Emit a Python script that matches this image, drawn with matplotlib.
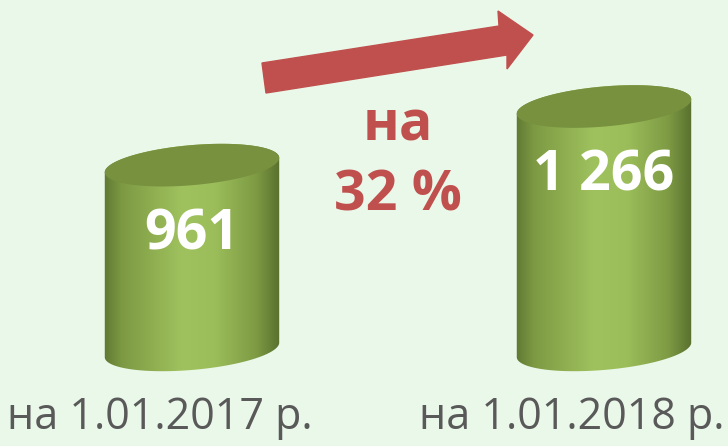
import numpy as np
import matplotlib.pyplot as plt
from matplotlib.patches import Polygon
from matplotlib.colors import LinearSegmentedColormap

# Дані
categories = ['на 1.01.2017 р.', 'на 1.01.2018 р.']
values = [961, 1266]
value_labels = ['961', '1 266']
growth_words = ['на', '32 %']

plt.rcParams['font.family'] = ['Open Sans', 'DejaVu Sans']

W, H = 728, 446
fig = plt.figure(figsize=(W / 100, H / 100), dpi=100)
fig.patch.set_facecolor('#EAF8EA')
ax = fig.add_axes([0, 0, 1, 1])
ax.set_facecolor('#EAF8EA')
ax.axis('off')

xlim = (-0.466, 1.301)
ylim = (-500, 1820)
sx = W / (xlim[1] - xlim[0])   # пікселів на одиницю x
sy = H / (ylim[1] - ylim[0])   # пікселів на одиницю y

bar_w = 0.425
B = 20          # мала піввісь еліпса, px
theta = np.radians(5)

cmap = LinearSegmentedColormap.from_list('cyl', [
    (0.0, '#5A7230'), (0.12, '#7D9A43'), (0.45, '#A0C25E'),
    (0.62, '#9CBE5A'), (0.85, '#7E9B44'), (1.0, '#52692A')])


def ellipse(cx, cy, t):
    A = bar_w / 2 * sx
    px = A * np.cos(t) * np.cos(theta) - B * np.sin(t) * np.sin(theta)
    py = A * np.cos(t) * np.sin(theta) + B * np.sin(t) * np.cos(theta)
    return cx + px / sx, cy + py / sy


def cylinder(x, h):
    t1 = np.linspace(0, np.pi, 100)
    t2 = np.linspace(np.pi, 2 * np.pi, 100)
    xt, yt = ellipse(x, h, t1)
    xb, yb = ellipse(x, 0, t2)
    body = Polygon(np.column_stack([np.r_[xt, xb], np.r_[yt, yb]]),
                   closed=True, facecolor='none', edgecolor='none')
    ax.add_patch(body)
    grad = np.linspace(0, 1, 256).reshape(1, -1)
    im = ax.imshow(grad, cmap=cmap, aspect='auto',
                   extent=[x - bar_w / 2 - 0.01, x + bar_w / 2 + 0.01,
                           -B * 2 / sy, h + B * 2 / sy],
                   zorder=2)
    im.set_clip_path(body)
    tt = np.linspace(0, 2 * np.pi, 200)
    xe, ye = ellipse(x, h, tt)
    ax.fill(xe, ye, color='#77913F', zorder=3, lw=0)


for i, v in enumerate(values):
    cylinder(i, v)
    ax.text(i, v - 362, value_labels[i], color='white', fontsize=40,
            fontweight='bold', ha='center', va='center', zorder=4)
    ax.text(i - 0.078, -354, categories[i], color='#595959', fontsize=31,
            ha='center', va='center')

red = '#C0504D'
ax.text(0.5, 1166, growth_words[0], color=red, fontsize=40,
        fontweight='bold', ha='center', va='center')
ax.text(0.5, 800, growth_words[1], color=red, fontsize=40,
        fontweight='bold', ha='center', va='center')

# стрілка
arrow_px = [(262, 63), (499, 26), (498, 11), (533, 35),
            (507, 69), (507, 55), (266, 93)]
arrow = Polygon([(px / W, 1 - py / H) for px, py in arrow_px],
                closed=True, color=red, transform=fig.transFigure)
fig.patches.append(arrow)

ax.set_xlim(*xlim)
ax.set_ylim(*ylim)

fig.savefig('out.png', dpi=100, facecolor=fig.get_facecolor())
